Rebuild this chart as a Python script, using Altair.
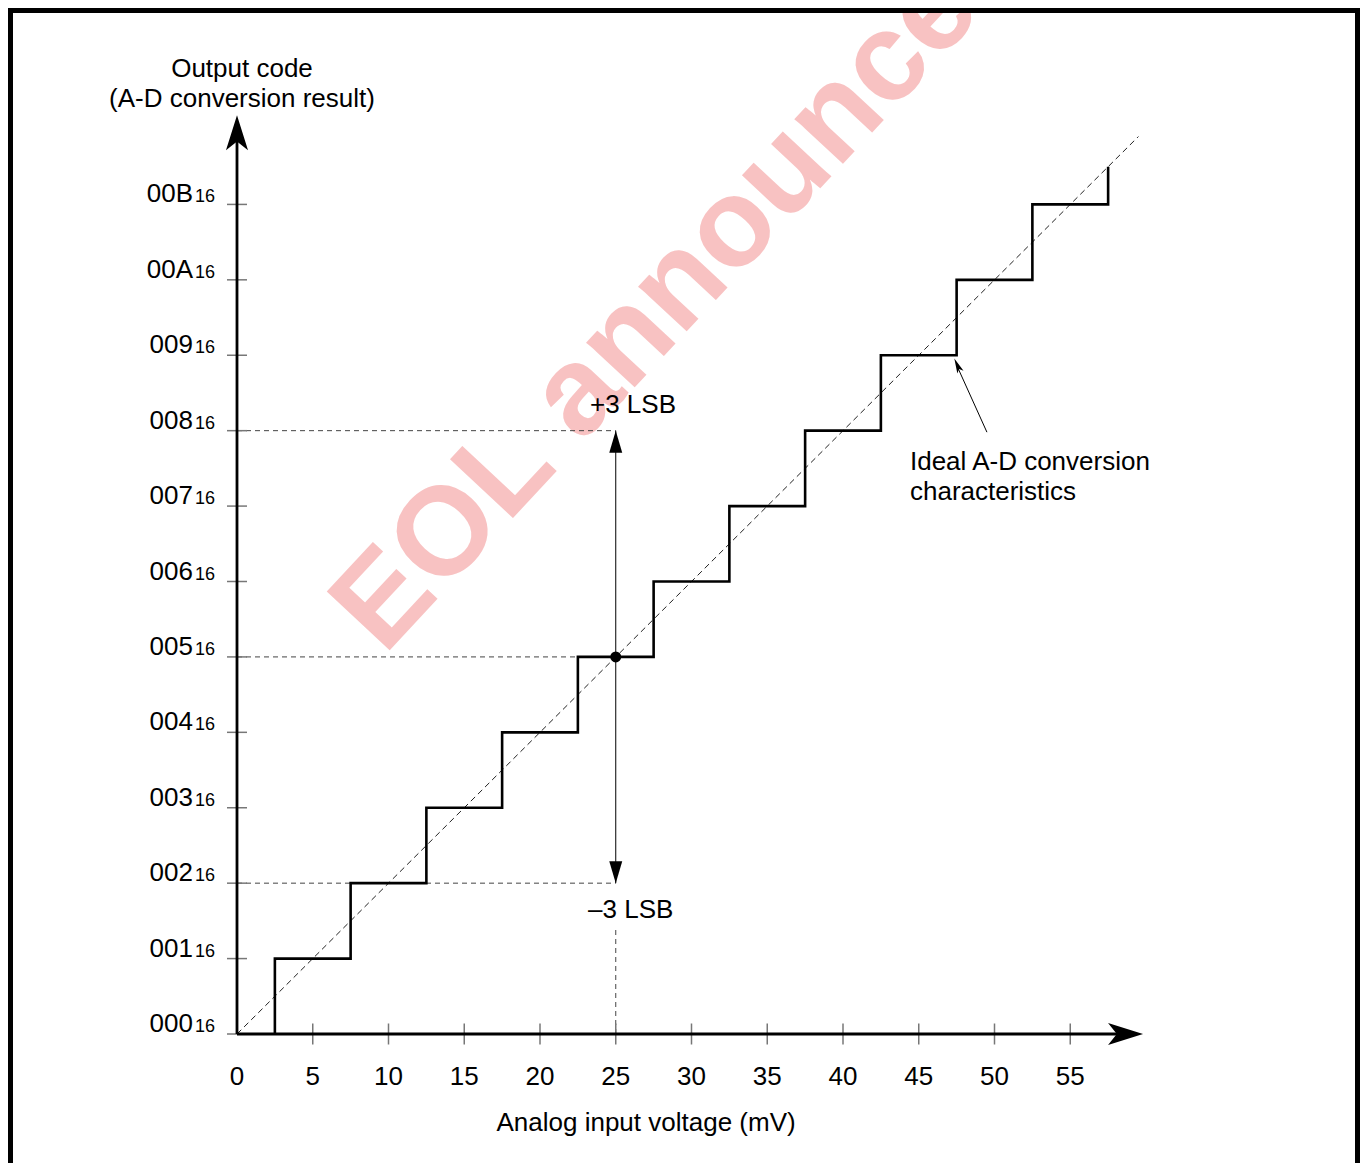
import altair as alt
import pandas as pd

# ---- data ----
code_values = [0, 1, 2, 3, 4, 5, 6, 7, 8, 9, 10, 11]
code_labels = ["000", "001", "002", "003", "004", "005", "006", "007", "008", "009", "00A", "00B"]
x_tick_values = [5, 10, 15, 20, 25, 30, 35, 40, 45, 50, 55]
x_label_values = [0, 5, 10, 15, 20, 25, 30, 35, 40, 45, 50, 55]

step_mv = [2.5, 7.5, 12.5, 17.5, 22.5, 27.5, 32.5, 37.5, 42.5, 47.5, 52.5, 57.5, 57.5]
step_code = [0, 1, 2, 3, 4, 5, 6, 7, 8, 9, 10, 11, 11.5]

ideal_mv = [0, 59.5]
ideal_code = [0, 11.9]

ref_mv = 25
ref_code = 5
lsb_err = 3

FONT = "Liberation Sans"
FS = 26

xs = alt.Scale(domain=[0, 60], nice=False, zero=False)
ys = alt.Scale(domain=[0, 12], nice=False, zero=False)


def X(f):
    return alt.X(f, type="quantitative", scale=xs, axis=None)


def Y(f):
    return alt.Y(f, type="quantitative", scale=ys, axis=None)


def one(**kw):
    return pd.DataFrame([kw])


# ---- frame ----
frame = alt.Chart(one(a=0)).mark_rect(filled=False, stroke="black", strokeWidth=5).encode(
    x=alt.value(-226.5), x2=alt.value(1120.5), y=alt.value(-118.5), y2=alt.value(1060)
)

# ---- watermark ----
watermark = alt.Chart(one(x=9.7, y=5.01, t="EOL announced")).mark_text(
    font=FONT, fontSize=125, fontWeight="bold", align="left", baseline="alphabetic",
    angle=313, color="#f8c2c2"
).encode(x=X("x"), y=Y("y"), text="t:N")

# ---- dashed reference lines ----
refs = pd.DataFrame({
    "x": [0, 0, 0, ref_mv],
    "x2": [ref_mv, ref_mv, ref_mv, ref_mv],
    "y": [ref_code + lsb_err, ref_code, ref_code - lsb_err, 0],
    "y2": [ref_code + lsb_err, ref_code, ref_code - lsb_err, 1.4],
})
ref_lines = alt.Chart(refs).mark_rule(color="#444", strokeWidth=1, strokeDash=[5, 4]).encode(
    x=X("x"), x2="x2", y=Y("y"), y2="y2"
)

ideal = alt.Chart(pd.DataFrame({"x": ideal_mv, "y": ideal_code})).mark_line(
    color="#222", strokeWidth=1, strokeDash=[6, 4]
).encode(x=X("x"), y=Y("y"))

# ---- ticks ----
y_ticks = alt.Chart(pd.DataFrame({"x": [0] * len(code_values), "y": code_values})).mark_point(
    shape="M-1,0L1,0", size=400, filled=False, stroke="#777", strokeWidth=1.5, opacity=1
).encode(x=X("x"), y=Y("y"))

x_ticks = alt.Chart(pd.DataFrame({"x": x_tick_values, "y": [0] * len(x_tick_values)})).mark_point(
    shape="M0,-1L0,1", size=441, filled=False, stroke="#777", strokeWidth=1.5, opacity=1
).encode(x=X("x"), y=Y("y"))

# ---- axes ----
axes = alt.Chart(pd.DataFrame({
    "x": [0, 0], "x2": [0, 58.6], "y": [0, 0], "y2": [11.9, 0]
})).mark_rule(color="black", strokeWidth=2.8).encode(x=X("x"), x2="x2", y=Y("y"), y2="y2")

ARROW = "M0,-1L0.63,1L0,0.5L-0.63,1Z"
y_arrow = alt.Chart(one(x=0, y=11.95)).mark_point(
    shape=ARROW, size=1225, filled=True, color="black", opacity=1, strokeWidth=0
).encode(x=X("x"), y=Y("y"))
x_arrow = alt.Chart(one(x=58.65, y=0)).mark_point(
    shape=ARROW, size=1225, filled=True, color="black", opacity=1, strokeWidth=0, angle=90
).encode(x=X("x"), y=Y("y"))

# ---- staircase ----
stairs = alt.Chart(pd.DataFrame({"x": step_mv, "y": step_code, "o": list(range(len(step_mv)))})).mark_line(
    color="black", strokeWidth=2.6, interpolate="step-before"
).encode(x=X("x"), y=Y("y"), order="o:Q")

# ---- error arrow ----
err_line = alt.Chart(one(x=ref_mv, y=ref_code - lsb_err, y2=ref_code + lsb_err)).mark_rule(
    color="black", strokeWidth=1
).encode(x=X("x"), y=Y("y"), y2="y2")

TRI = "M0,-1L0.59,1L-0.59,1Z"
err_up = alt.Chart(one(x=ref_mv, y=ref_code + lsb_err - 0.146)).mark_point(
    shape=TRI, size=484, filled=True, color="black", opacity=1, strokeWidth=0
).encode(x=X("x"), y=Y("y"))
err_dn = alt.Chart(one(x=ref_mv, y=ref_code - lsb_err + 0.146)).mark_point(
    shape=TRI, size=484, filled=True, color="black", opacity=1, strokeWidth=0, angle=180
).encode(x=X("x"), y=Y("y"))
dot = alt.Chart(one(x=ref_mv, y=ref_code)).mark_circle(size=120, color="black", opacity=1).encode(
    x=X("x"), y=Y("y")
)

# ---- annotation arrow ----
ann_line = alt.Chart(one(x=49.5, y=7.98, x2=47.5, y2=8.87)).mark_rule(color="black", strokeWidth=1).encode(
    x=X("x"), y=Y("y"), x2="x2", y2="y2"
)
ann_head = alt.Chart(one(x=47.55, y=8.866)).mark_point(
    shape="M0,-1L0.45,1L0,0.55L-0.45,1Z", size=225, filled=True, color="black",
    opacity=1, strokeWidth=0, angle=336
).encode(x=X("x"), y=Y("y"))

# ---- labels ----
ylab = pd.DataFrame({"x": [0] * len(code_values), "y": code_values, "t": code_labels, "s": ["16"] * len(code_values)})
y_main = alt.Chart(ylab).mark_text(
    font=FONT, fontSize=FS, align="right", baseline="alphabetic", dx=-44, dy=-2, color="black"
).encode(x=X("x"), y=Y("y"), text="t:N")
y_sub = alt.Chart(ylab).mark_text(
    font=FONT, fontSize=18, align="left", baseline="alphabetic", dx=-42, dy=-2, color="black"
).encode(x=X("x"), y=Y("y"), text="s:N")

xlab = pd.DataFrame({"x": x_label_values, "y": [0] * len(x_label_values), "t": [str(v) for v in x_label_values]})
x_text = alt.Chart(xlab).mark_text(
    font=FONT, fontSize=FS, align="center", baseline="alphabetic", dy=51, color="black"
).encode(x=X("x"), y=Y("y"), text="t:N")

titles = pd.DataFrame({
    "x": [0.33, 0.33, 27.0],
    "y": [12.69, 12.29, -1.29],
    "t": ["Output code", "(A-D conversion result)", "Analog input voltage (mV)"],
})
title_text = alt.Chart(titles).mark_text(
    font=FONT, fontSize=FS, align="center", baseline="alphabetic", color="black"
).encode(x=X("x"), y=Y("y"), text="t:N")

notes = pd.DataFrame({
    "x": [23.3, 23.17, 44.42, 44.42],
    "y": [8.234, 1.538, 7.478, 7.08],
    "t": ["+3 LSB", "\u20133 LSB", "Ideal A-D conversion", "characteristics"],
})
note_text = alt.Chart(notes).mark_text(
    font=FONT, fontSize=FS, align="left", baseline="alphabetic", color="black"
).encode(x=X("x"), y=Y("y"), text="t:N")

chart = alt.layer(
    watermark, ref_lines, ideal, y_ticks, x_ticks, axes, y_arrow, x_arrow, stairs,
    err_line, err_up, err_dn, dot, ann_line, ann_head,
    y_main, y_sub, x_text, title_text, note_text, frame
).properties(
    width=909, height=905,
    autosize=alt.AutoSizeParams(type="none"),
    padding={"left": 229, "top": 121, "right": 214, "bottom": 129},
    background="white",
).configure_view(stroke=None)

chart.save("out.html", embed_options={"renderer": "svg", "actions": False})
